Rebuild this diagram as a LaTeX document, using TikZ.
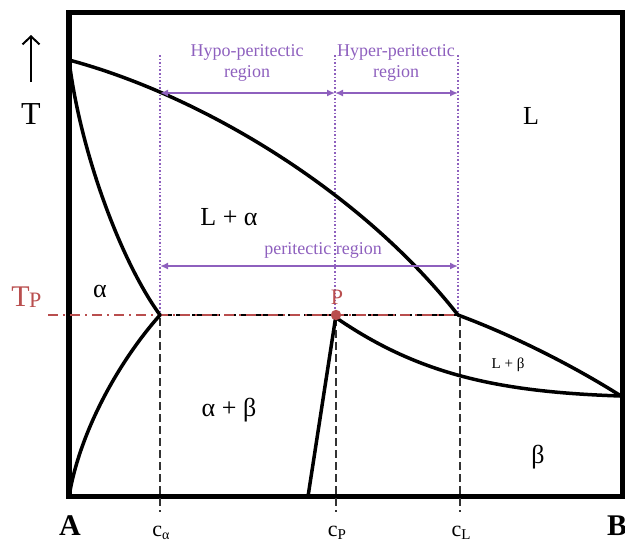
\documentclass[tikz,border=0pt]{standalone}
\usepackage{fontspec}
\setmainfont{Liberation Serif}
\usetikzlibrary{calc, arrows.meta}

\definecolor{regionpurple}{RGB}{142,96,190}
\definecolor{tpred}{RGB}{185,78,78}

\tikzset{
    frameline/.style={line width=2.75pt},
    phaseline/.style={line width=1.75pt, line join=round, line cap=round},
    guideline/.style={regionpurple, densely dotted, line width=0.8pt},
    compline/.style={black!80, dash pattern=on 4pt off 2pt, line width=0.9pt},
    tpline/.style={tpred, dash pattern=on 5pt off 2.5pt on 1pt off 2.5pt, line width=1.3pt},
    regionarrow/.style={regionpurple, line width=1pt, {Latex[length=4pt,width=3.5pt]}-{Latex[length=4pt,width=3.5pt]}},
    phaselabel/.style={font=\fontsize{13}{15}\selectfont, inner sep=0pt},
    regionlabel/.style={regionpurple, font=\fontsize{9}{10.5}\selectfont, align=center, inner sep=0pt},
    complabel/.style={font=\fontsize{11}{12}\selectfont, inner sep=0pt},
    endlabel/.style={font=\fontsize{15}{16}\selectfont\bfseries, inner sep=0pt},
}

\begin{document}
\begin{tikzpicture}[x=0.5pt, y=-0.5pt]

    % --- picture size (pixel units, y pointing down) ---
    \useasboundingbox (0,0) rectangle (625,543);

    % --- key points of the diagram ---
    \coordinate (Am) at (69,60);      % melting point of A
    \coordinate (Ca) at (160,315);    % alpha end of the peritectic line
    \coordinate (P)  at (336,315);    % peritectic point
    \coordinate (Cl) at (458,315);    % liquid end of the peritectic line
    \coordinate (Bm) at (621,396);    % melting point of B
    \coordinate (Ao) at (69,496.5);   % corner A
    \coordinate (Bs) at (308,496.5);  % foot of the beta solvus

    % =========================================================================
    % FRAME
    % =========================================================================
    \draw[frameline] (69,12.5) rectangle (623,496.5);

    % =========================================================================
    % GUIDE LINES (purple dotted above, black dashed below T_P)
    % =========================================================================
    \coordinate (gA) at (160,55);
    \coordinate (gP) at (335,55);
    \coordinate (gL) at (458,55);
    \draw[guideline] (gA) -- (160,315);
    \draw[guideline] (gP) -- (335,315);
    \draw[guideline] (gL) -- (458,315);

    \coordinate (cAe) at (160,512);
    \coordinate (cPe) at (336,512);
    \coordinate (cLe) at (460,512);
    \draw[compline] (160,318) -- (cAe);
    \draw[compline] (336,318) -- (cPe);
    \draw[compline] (460,318) -- (cLe);

    % peritectic isotherm
    \draw[black, line width=1pt, dash pattern=on 6pt off 2pt] (Ca) -- (Cl);
    \coordinate (tpS) at (48,315);
    \draw[tpline] (tpS) -- (Cl);

    % =========================================================================
    % PHASE BOUNDARIES
    % =========================================================================
    % liquidus L / L+alpha
    \draw[phaseline] (Am) .. controls (200,95) and (360,190) .. (Cl);
    % solidus alpha
    \draw[phaseline] (Am) .. controls (80,150) and (120,260) .. (Ca);
    % solvus alpha
    \draw[phaseline] (Ca) .. controls (120,360) and (80,430) .. (Ao);
    % solvus beta
    \draw[phaseline] (P) -- (Bs);
    % solidus beta
    \draw[phaseline] (338,319) .. controls (420,375) and (500,392) .. (Bm);
    % liquidus beta
    \draw[phaseline] (Cl) .. controls (520,338) and (580,370) .. (Bm);

    % peritectic point
    \fill[tpred] (P) circle (2.6pt);
    \node[tpred, font=\fontsize{11}{12}\selectfont, inner sep=0pt] (lblP) at (337,297) {P};

    % =========================================================================
    % REGION ARROWS
    % =========================================================================
    \coordinate (hypoS) at (160,93);
    \coordinate (hypoE) at (335,93);
    \coordinate (hyperE) at (458,93);
    \coordinate (periS) at (160,266);
    \coordinate (periE) at (458,266);
    \draw[regionarrow] (hypoS) -- (hypoE);
    \draw[regionarrow] (hypoE) -- (hyperE);
    \draw[regionarrow] (periS) -- (periE);

    \node[regionlabel] (lblHypo)  at (247,63) {Hypo-peritectic\\region};
    \node[regionlabel] (lblHyper) at (396,63) {Hyper-peritectic\\region};
    \node[regionlabel] (lblPeri)  at (323,250) {peritectic region};

    % =========================================================================
    % PHASE LABELS
    % =========================================================================
    \node[phaselabel] (lblL)   at (531,116) {L};
    \node[phaselabel] (lblLa)  at (229,217) {L + α};
    \node[phaselabel] (lblA)   at (100,291) {α};
    \node[phaselabel] (lblAB)  at (229,410) {α + β};
    \node[font=\fontsize{7.5}{8}\selectfont, inner sep=0pt] (lblLB) at (508,365) {L + β};
    \node[phaselabel] (lblB)   at (538,457) {β};

    % =========================================================================
    % AXES LABELS
    % =========================================================================
    \coordinate (tArrS) at (31,82);
    \coordinate (tArrE) at (31,35);
    \draw[line width=1pt, -{Straight Barb[length=4pt,width=8.5pt]}] (tArrS) -- (tArrE);
    \node[font=\fontsize{16}{17}\selectfont, inner sep=0pt] (lblT) at (31,114) {T};
    \node[tpred, font=\fontsize{15}{16}\selectfont, inner sep=0pt, anchor=base west] (lblTP) at (11,306)
        {T\kern-0.3pt\raisebox{-0.1ex}{\fontsize{11}{12}\selectfont P}};

    \node[endlabel] (lblEndA) at (70,526) {A};
    \node[endlabel] (lblEndB) at (617,526) {B};
    \node[complabel] (lblCa) at (161,533) {c\raisebox{-0.35ex}{\fontsize{7}{8}\selectfont α}};
    \node[complabel] (lblCp) at (337,533) {c\raisebox{-0.35ex}{\fontsize{7.5}{8}\selectfont P}};
    \node[complabel] (lblCl) at (461,533) {c\raisebox{-0.35ex}{\fontsize{7.5}{8}\selectfont L}};

\end{tikzpicture}
\end{document}
